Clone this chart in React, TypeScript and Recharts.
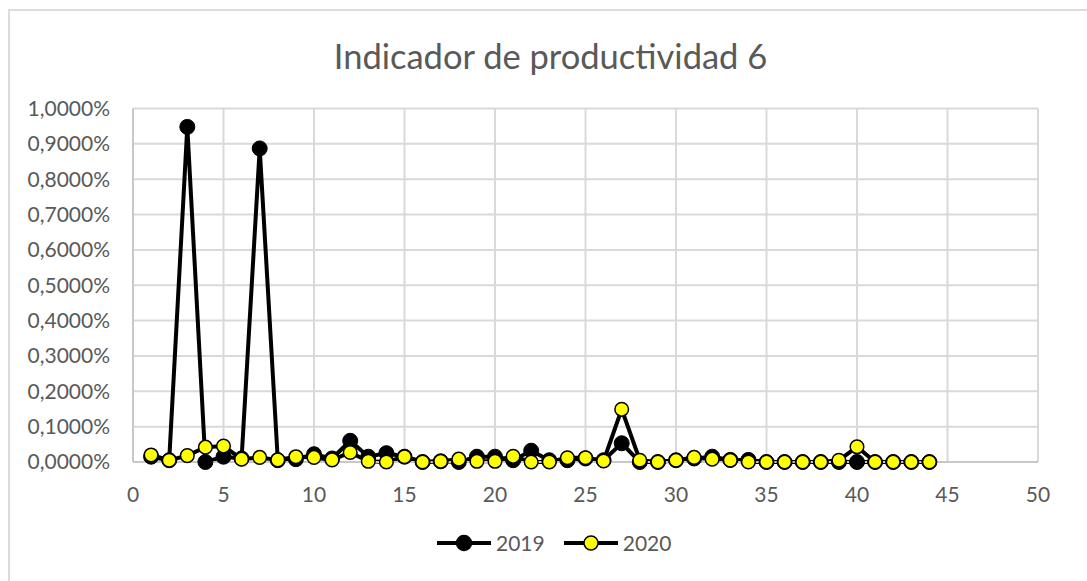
import React from 'react';
import { LineChart, Line, XAxis, YAxis, CartesianGrid } from 'recharts';

const TITLE = 'Indicador de productividad 6';
const SERIES_NAMES = ['2019', '2020'];
const X_VALUES = [
  1, 2, 3, 4, 5, 6, 7, 8, 9, 10, 11, 12, 13, 14, 15, 16, 17, 18, 19, 20, 21, 22,
  23, 24, 25, 26, 27, 28, 29, 30, 31, 32, 33, 34, 35, 36, 37, 38, 39, 40, 41, 42, 43, 44,
];
// values in percent
const VALUES_2019 = [
  0.015, 0.005, 0.948, 0.0, 0.015, 0.01, 0.887, 0.005, 0.008, 0.022, 0.01, 0.06, 0.015, 0.025,
  0.015, 0.0, 0.002, 0.0, 0.015, 0.015, 0.005, 0.032, 0.005, 0.005, 0.01, 0.005, 0.053, 0.0,
  0.0, 0.005, 0.01, 0.015, 0.006, 0.006, 0.0, 0.0, 0.0, 0.0, 0.0, 0.0, 0.0, 0.0, 0.0, 0.0,
];
const VALUES_2020 = [
  0.02, 0.005, 0.018, 0.042, 0.045, 0.008, 0.013, 0.006, 0.015, 0.013, 0.006, 0.027, 0.002, 0.0,
  0.015, 0.0, 0.002, 0.008, 0.002, 0.002, 0.016, 0.0, 0.0, 0.012, 0.012, 0.003, 0.149, 0.005,
  0.0, 0.005, 0.013, 0.008, 0.005, 0.0, 0.0, 0.0, 0.0, 0.0, 0.005, 0.043, 0.0, 0.0, 0.0, 0.0,
];
const X_TICKS = [0, 5, 10, 15, 20, 25, 30, 35, 40, 45, 50];
const Y_TICKS = [0, 0.1, 0.2, 0.3, 0.4, 0.5, 0.6, 0.7, 0.8, 0.9, 1.0];

const data = X_VALUES.map((x, i) => ({ x, a: VALUES_2019[i], b: VALUES_2020[i] }));

const TEXT = '#595959';
const FONT = 'Lato, "Noto Sans", sans-serif';

const fmtPct = (v: number) => `${v.toFixed(4).replace('.', ',')}%`;

function LegendItem({ name, fill }: { name: string; fill: string }) {
  return (
    <div style={{ display: 'flex', alignItems: 'center', marginRight: 18 }}>
      <svg width={56} height={18} style={{ display: 'block' }}>
        <line x1={1} y1={9} x2={55} y2={9} stroke="#000" strokeWidth={4} />
        <circle cx={28} cy={9} r={fill === '#000000' ? 7.5 : 7} fill={fill} stroke="#000" strokeWidth={1.5} />
      </svg>
      <span style={{ marginLeft: 4, fontSize: 21, color: TEXT, fontFamily: FONT, lineHeight: '24px' }}>{name}</span>
    </div>
  );
}

export default function App() {
  return (
    <div style={{ position: 'absolute', left: 0, top: 0, width: 1087, height: 581, background: '#fff', overflow: 'hidden' }}>
      <div
        style={{
          position: 'absolute',
          left: 8,
          top: 9,
          width: 1200,
          height: 700,
          borderLeft: '2px solid #dcdcdc',
          borderTop: '2px solid #dcdcdc',
        }}
      />
      <div
        style={{
          position: 'absolute',
          left: 0,
          width: 1101,
          top: 35,
          textAlign: 'center',
          fontFamily: FONT,
          fontSize: 34.5,
          color: TEXT,
          lineHeight: '42px',
        }}
      >
        {TITLE}
      </div>
      <div style={{ position: 'absolute', left: 0, top: 0 }}>
        <LineChart
          width={1087}
          height={581}
          data={data}
          margin={{ top: 108.5, right: 49, bottom: 89, left: 33 }}
        >
          <CartesianGrid stroke="#d9d9d9" strokeWidth={2} vertical={true} horizontal={true} />
          <XAxis
            dataKey="x"
            type="number"
            domain={[0, 50]}
            ticks={X_TICKS}
            interval={0}
            height={30}
            axisLine={{ stroke: '#c8c8c8', strokeWidth: 2 }}
            tickLine={false}
            tickMargin={19}
            tick={{ fontSize: 21, fill: TEXT, fontFamily: FONT }}
          />
          <YAxis
            type="number"
            domain={[0, 1]}
            ticks={Y_TICKS}
            interval={0}
            width={100}
            axisLine={{ stroke: '#c8c8c8', strokeWidth: 2 }}
            tickLine={false}
            tickMargin={17}
            tickFormatter={fmtPct}
            tick={{ fontSize: 21, fill: TEXT, fontFamily: FONT }}
          />
          <Line
            type="linear"
            dataKey="a"
            name={SERIES_NAMES[0]}
            stroke="#000"
            strokeWidth={4}
            dot={{ r: 7.5, fill: '#000', stroke: '#000', strokeWidth: 1 }}
            isAnimationActive={false}
          />
          <Line
            type="linear"
            dataKey="b"
            name={SERIES_NAMES[1]}
            stroke="#000"
            strokeWidth={4}
            dot={{ r: 6.8, fill: '#ffff00', stroke: '#000', strokeWidth: 1.5 }}
            isAnimationActive={false}
          />
        </LineChart>
      </div>
      <div
        style={{
          position: 'absolute',
          left: 436,
          top: 531,
          display: 'flex',
          alignItems: 'center',
        }}
      >
        <LegendItem name={SERIES_NAMES[0]} fill="#000000" />
        <LegendItem name={SERIES_NAMES[1]} fill="#ffff00" />
      </div>
    </div>
  );
}
